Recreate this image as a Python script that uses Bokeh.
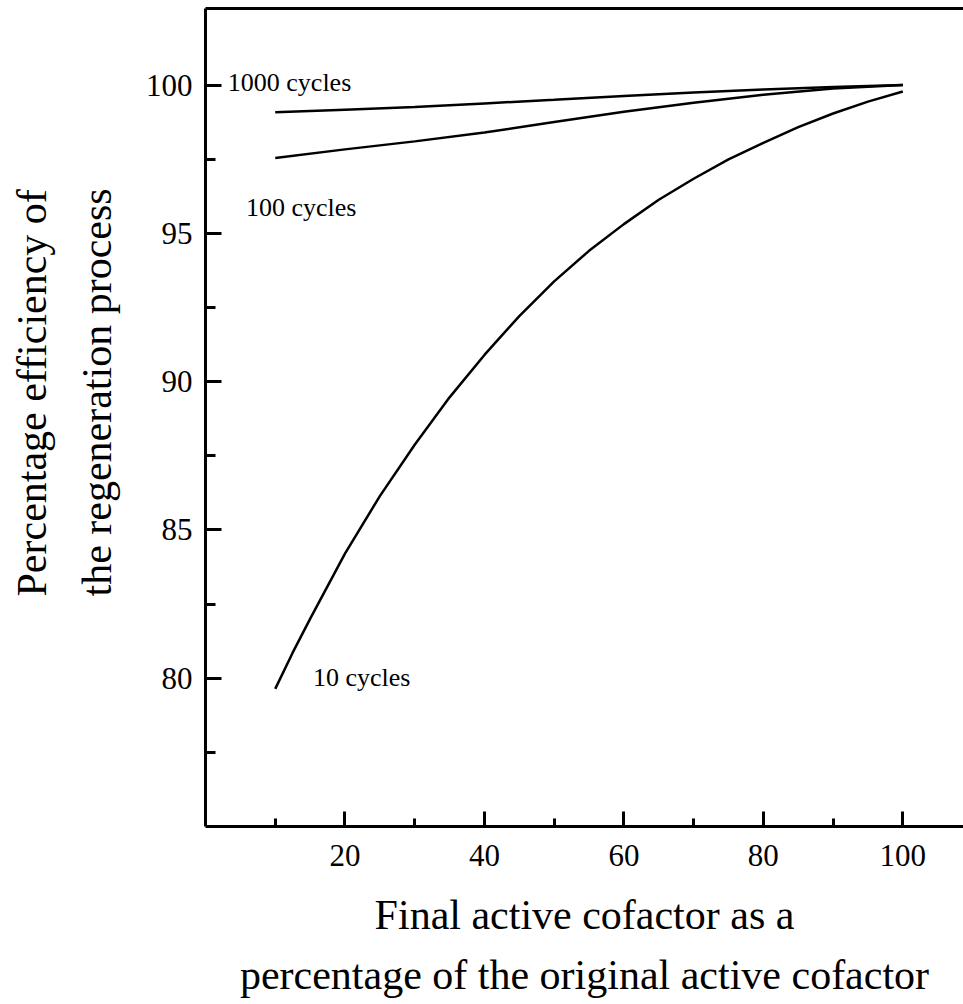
from bokeh.plotting import figure
from bokeh.models import Label, LinearAxis, FixedTicker, Range1d, Title
from bokeh.embed import file_html
from bokeh.resources import INLINE

# ---- data ----
x_10 = [10, 12.5, 15, 20, 25, 30, 35, 40, 45, 50, 55, 60, 65, 70, 75, 80, 85, 90, 95, 100]
y_10 = [79.64, 80.86, 82.0, 84.2, 86.14, 87.87, 89.47, 90.9, 92.21, 93.38, 94.41, 95.31,
        96.13, 96.84, 97.49, 98.05, 98.58, 99.04, 99.44, 99.78]

x_100 = [10, 20, 30, 40, 50, 60, 70, 80, 90, 100]
y_100 = [97.54, 97.83, 98.1, 98.4, 98.75, 99.1, 99.4, 99.67, 99.88, 100.0]

x_1000 = [10, 20, 30, 40, 50, 60, 70, 80, 90, 100]
y_1000 = [99.08, 99.17, 99.26, 99.38, 99.5, 99.63, 99.75, 99.85, 99.93, 100.0]

curve_labels = ["1000 cycles", "100 cycles", "10 cycles"]

x_major = [20, 40, 60, 80, 100]
x_minor = [10, 30, 50, 70, 90]
y_major = [80, 85, 90, 95, 100]
y_minor = [77.5, 82.5, 87.5, 92.5, 97.5]

x_title = ["Final active cofactor as a", "percentage of the original active cofactor"]
y_title = ["Percentage efficiency of", "the regeneration process"]

# ---- figure ----
FONT = "Liberation Serif"
p = figure(width=963, height=1004,
           x_range=Range1d(0, 108.7), y_range=Range1d(75, 102.58),
           output_backend="svg", toolbar_location=None,
           min_border_left=205, min_border_right=0,
           min_border_top=8, min_border_bottom=178)
p.grid.visible = False
p.outline_line_color = None
p.background_fill_color = "white"
p.border_fill_color = "white"

for ax, maj, mino, tin, tmin, stand in ((p.xaxis[0], x_major, x_minor, 15, 8, 18),
                                      (p.yaxis[0], y_major, y_minor, 16, 10, 13)):
    ax.ticker = FixedTicker(ticks=maj, minor_ticks=mino)
    ax.axis_line_width = 3
    ax.axis_line_color = "black"
    ax.major_tick_in = tin
    ax.major_tick_out = 0
    ax.minor_tick_in = tmin
    ax.minor_tick_out = 0
    ax.major_tick_line_width = 3
    ax.minor_tick_line_width = 3
    ax.major_tick_line_color = "black"
    ax.minor_tick_line_color = "black"
    ax.major_label_text_font = FONT
    ax.major_label_text_font_size = "31px"
    ax.major_label_text_color = "black"
    ax.major_label_standoff = stand

top = LinearAxis(ticker=FixedTicker(ticks=[]), axis_line_width=3, axis_line_color="black",
                 major_tick_in=0, major_tick_out=0, minor_tick_in=0, minor_tick_out=0,
                 major_label_text_font_size="0px", major_label_standoff=0)
p.add_layout(top, "above")


def spacer(px, at):
    # an axis with one white, unlabeled tick in a blank spot: it only reserves px pixels
    return LinearAxis(ticker=FixedTicker(ticks=[at]), axis_line_color=None,
                      major_tick_in=0, major_tick_out=px, minor_tick_in=0, minor_tick_out=0,
                      major_tick_line_color="white", minor_tick_line_color=None,
                      major_label_overrides={at: ""},
                      major_label_text_font_size="0px", major_label_standoff=0)


p.add_layout(spacer(13, 50), "below")
p.add_layout(spacer(9, 77.5), "left")

for xs, ys in ((x_10, y_10), (x_100, y_100), (x_1000, y_1000)):
    p.line(xs, ys, line_color="black", line_width=2.5)

# curve annotations
label_x = [3.2, 5.8, 15.4]
label_y = [100.1, 95.86, 80.04]
for t, lx, ly in zip(curve_labels, label_x, label_y):
    p.add_layout(Label(x=lx, y=ly, text=t, text_font=FONT, text_font_size="26px",
                       text_color="black", text_align="left", text_baseline="alphabetic"))

# axis titles (two lines each), stacked outward from the frame
for t, s in zip(x_title, [16, 8]):
    p.add_layout(Title(text=t, align="center", text_font=FONT, text_font_size="42px",
                       text_font_style="normal", text_color="black", standoff=s), "below")
for t, s in zip(reversed(y_title), [28, 6]):
    p.add_layout(Title(text=t, align="left", offset=230, text_font=FONT, text_font_size="42px",
                       text_font_style="normal", text_color="black", standoff=s), "left")

open("out.html", "w").write(file_html(p, INLINE))
